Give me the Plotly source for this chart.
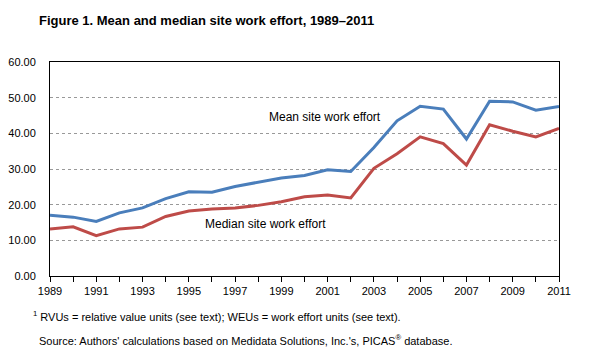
import plotly.graph_objects as go

years = list(range(1989, 2012))
mean_effort = [17.0, 16.5, 15.3, 17.7, 19.1, 21.7, 23.6, 23.5, 25.1, 26.4, 27.5, 28.2,
               29.8, 29.3, 36.0, 43.5, 47.6, 46.8, 38.4, 49.0, 48.8, 46.5, 47.5]
median_effort = [13.2, 13.8, 11.3, 13.2, 13.7, 16.7, 18.2, 18.8, 19.1, 19.8, 20.8, 22.2,
                 22.7, 21.9, 30.2, 34.3, 39.0, 37.1, 31.1, 42.4, 40.6, 39.0, 41.4]
tick_text = [str(y) if (y - 1989) % 2 == 0 else "" for y in years]
y_ticks = [0, 10, 20, 30, 40, 50, 60]
y_tick_text = [f"{v:.2f}" for v in y_ticks]

FONT = "Liberation Sans"

# page has an 8px body margin; plot area in screenshot: x 50..559, y 62..276
PL, PR, PT, PB = 50, 559, 62, 276


def px(x):
    return (x - PL) / (PR - PL)


def py(y):
    return (PB - y) / (PB - PT)


fig = go.Figure()
fig.add_trace(go.Scatter(x=years, y=mean_effort, mode="lines",
                         line=dict(color="#4a7ebb", width=3), name="Mean"))
fig.add_trace(go.Scatter(x=years, y=median_effort, mode="lines",
                         line=dict(color="#be4b48", width=3), name="Median"))

fig.update_layout(
    width=597, height=356,
    margin=dict(l=42, r=46, t=54, b=88, autoexpand=False),
    paper_bgcolor="white", plot_bgcolor="white",
    showlegend=False,
    font=dict(family=FONT, size=11, color="black"),
    xaxis=dict(range=[1989, 2011], tickvals=years, ticktext=tick_text,
               ticks="outside", ticklen=5, tickcolor="black", tickwidth=1,
               showline=True, linecolor="black", linewidth=1, mirror=True,
               showgrid=False, zeroline=False, automargin=False, tickfont=dict(size=11)),
    yaxis=dict(range=[0, 60], tickvals=y_ticks, ticktext=y_tick_text,
               showline=True, linecolor="black", linewidth=1, mirror=True,
               showgrid=True, gridcolor="#999999", griddash="dot", gridwidth=1,
               zeroline=False, ticks="", ticklabelstandoff=11, automargin=False,
               tickfont=dict(size=11)),
)

fig.add_annotation(x=px(37), y=py(20), xref="paper", yref="paper",
                   text="<b>Figure 1. Mean and median site work effort, 1989–2011</b>",
                   showarrow=False, xanchor="left", yanchor="middle",
                   font=dict(family=FONT, size=13))

fig.add_annotation(x=1998.4, y=44.6, text="Mean site work effort", showarrow=False,
                   xanchor="left", yanchor="middle", font=dict(size=12))
fig.add_annotation(x=1995.6, y=14.6, text="Median site work effort", showarrow=False,
                   xanchor="left", yanchor="middle", font=dict(size=12))

fig.add_annotation(x=px(31), y=py(316), xref="paper", yref="paper",
                   text="<sup>1</sup> RVUs = relative value units (see text); WEUs = work effort units (see text).",
                   showarrow=False, xanchor="left", yanchor="middle", font=dict(size=11))
fig.add_annotation(x=px(37), y=py(340), xref="paper", yref="paper",
                   text="Source: Authors' calculations based on Medidata Solutions, Inc.'s, PICAS<sup>®</sup> database.",
                   showarrow=False, xanchor="left", yanchor="middle", font=dict(size=11))

fig.write_html("out.html")
